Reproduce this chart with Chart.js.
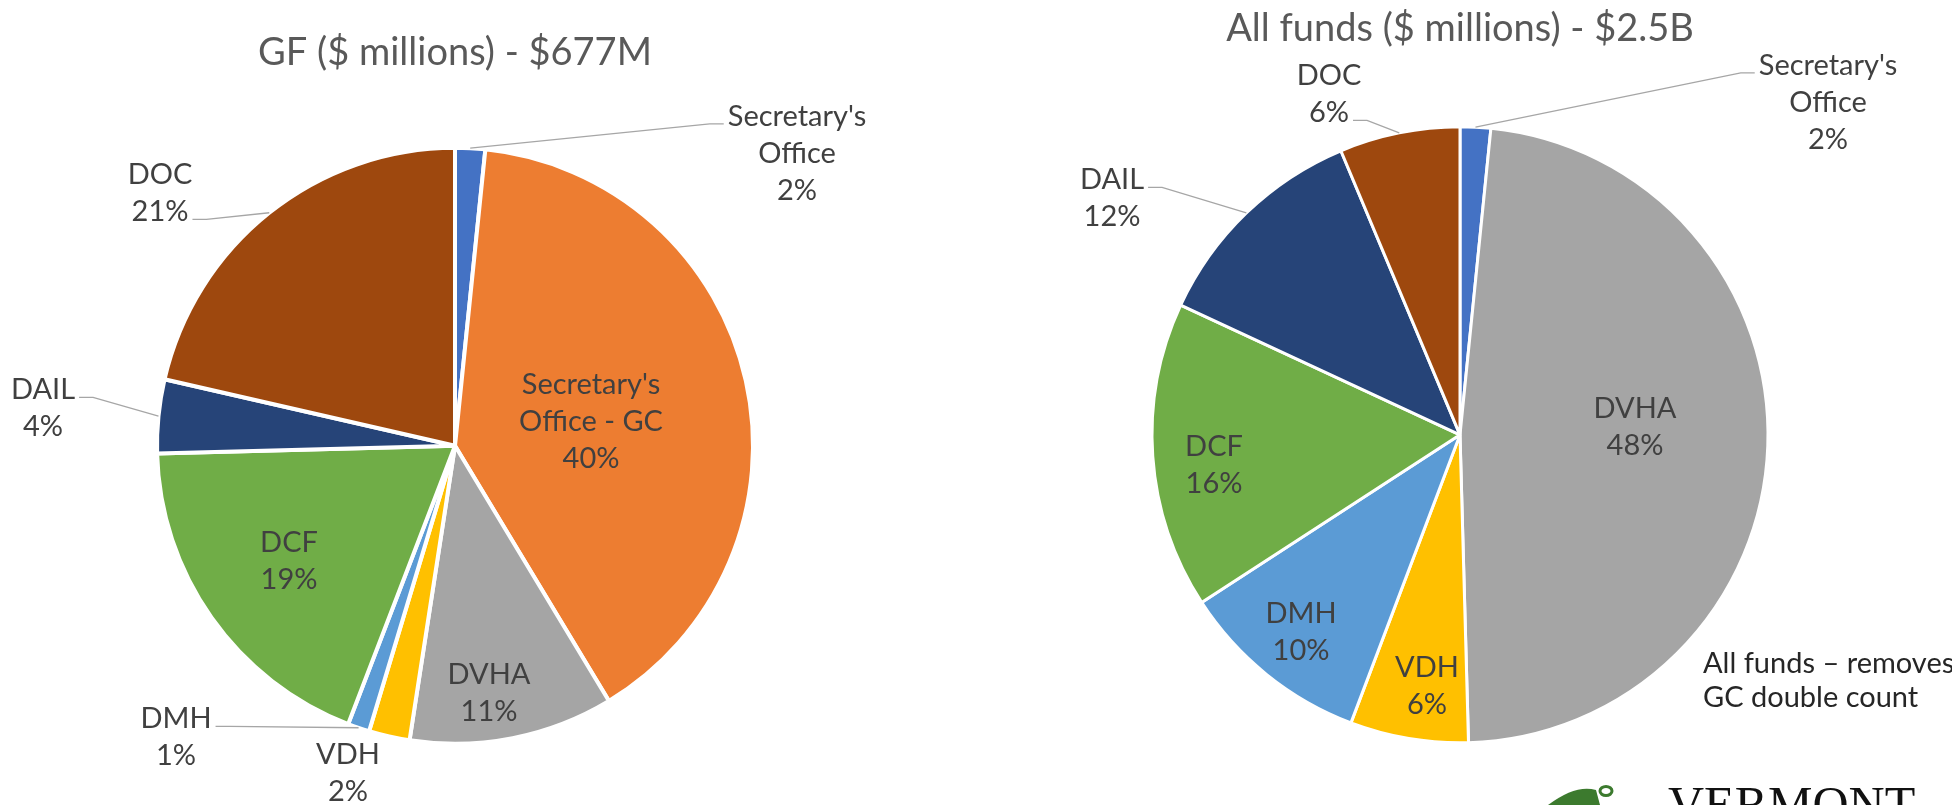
<!DOCTYPE html>
<html>
<head>
<meta charset="utf-8">
<script src="https://cdn.jsdelivr.net/npm/chart.js@4.4.1/dist/chart.umd.min.js"></script>
<style>
  html, body { margin: 0; padding: 0; background: #fff; overflow: hidden; }
  .pane { position: absolute; top: 0; width: 976px; height: 805px; }
</style>
</head>
<body>
<div class="pane" style="left:0"><canvas id="gfChart"></canvas></div>
<div class="pane" style="left:976px"><canvas id="allChart"></canvas></div>
<script>
// GF pie, $ millions, clockwise from 12 o'clock
const gfLabels = [["Secretary's", "Office"], ["Secretary's", "Office - GC"], ["DVHA"], ["VDH"], ["DMH"], ["DCF"], ["DAIL"], ["DOC"]];
const gfValues = [11, 269, 75, 15, 8, 127, 27, 145];
const gfColors = ['#4472C4', '#ED7D31', '#A5A5A5', '#FFC000', '#5B9BD5', '#70AD47', '#264478', '#9E480E'];

// All funds pie, $ millions
const allLabels = [["Secretary's", "Office"], ["DVHA"], ["VDH"], ["DMH"], ["DCF"], ["DAIL"], ["DOC"]];
const allValues = [40, 1199, 155, 252, 402, 294, 158];
const allColors = ['#4472C4', '#A5A5A5', '#FFC000', '#5B9BD5', '#70AD47', '#264478', '#9E480E'];

const noteLines = ["All funds \u2013 removes", "GC double count"];

// where the label blocks sit, px from the pie centre
const gfLabelPos = [[342, -293], [136, -25], [34, 247], [-107, 327], [-279, 291], [-166, 115], [-412, -38], [-295, -253]];
const allLabelPos = [[368, -333], [175, -8], [-33, 251], [-159, 197], [-246, 30], [-348, -237], [-131, -341]];
// leader lines: [text line they hang off, side of the text]
const gfLeaders = {0: [0, 'left'], 4: [0, 'right'], 6: [0, 'right'], 7: [1, 'right']};
const allLeaders = {0: [0, 'left'], 5: [0, 'right'], 6: [1, 'right']};

const FONT = 'Lato, "Open Sans", sans-serif';
const LINE = 37;

const labelPlugin = {
  id: 'sliceLabels',
  afterDatasetsDraw(chart, args, opts) {
    const ctx = chart.ctx;
    const meta = chart.getDatasetMeta(0);
    const values = chart.data.datasets[0].data;
    const total = values.reduce((a, b) => a + b, 0);
    ctx.save();
    ctx.font = '29px ' + FONT;
    ctx.textAlign = 'center';
    ctx.textBaseline = 'alphabetic';
    meta.data.forEach((arc, i) => {
      const p = arc.getProps(['x', 'y', 'outerRadius', 'startAngle', 'endAngle'], true);
      const lines = chart.data.labels[i].concat(Math.round(values[i] / total * 100) + '%');
      const cx = p.x + opts.pos[i][0], cy = p.y + opts.pos[i][1];
      const top = cy - (lines.length - 1) * LINE / 2;
      ctx.fillStyle = '#404040';
      lines.forEach((t, k) => ctx.fillText(t, cx, top + k * LINE + 10));
      const ld = opts.leaders[i];
      if (ld) {
        const w = ctx.measureText(lines[ld[0]]).width;
        const dir = ld[1] == 'left' ? -1 : 1;
        const sx = cx + dir * (w / 2 + 4), sy = top + ld[0] * LINE + 8;
        const mid = (p.startAngle + p.endAngle) / 2;
        ctx.strokeStyle = '#A6A6A6';
        ctx.lineWidth = 1.3;
        ctx.beginPath();
        ctx.moveTo(sx, sy);
        ctx.lineTo(sx + dir * 14, sy);
        ctx.lineTo(p.x + Math.cos(mid) * p.outerRadius, p.y + Math.sin(mid) * p.outerRadius);
        ctx.stroke();
      }
    });
    ctx.restore();
  }
};

const notePlugin = {
  id: 'note',
  afterDraw(chart) {
    const ctx = chart.ctx;
    ctx.save();
    ctx.font = '29px ' + FONT;
    ctx.fillStyle = '#262626';
    ctx.textAlign = 'left';
    noteLines.forEach((t, k) => ctx.fillText(t, 727, 673 + k * 34));
    // logo, cut by the bottom edge
    ctx.font = '50px "Liberation Serif", serif';
    ctx.fillStyle = '#111';
    ctx.fillText('VERMONT', 692, 821);
    ctx.fillStyle = '#3C7A2E';
    ctx.beginPath();
    ctx.moveTo(572, 805);
    ctx.quadraticCurveTo(600, 784, 620, 790);
    ctx.lineTo(624, 805);
    ctx.closePath();
    ctx.fill();
    ctx.strokeStyle = '#3C7A2E';
    ctx.lineWidth = 3;
    ctx.beginPath();
    ctx.ellipse(630, 791, 6, 4.5, 0, 0, Math.PI * 2);
    ctx.stroke();
    ctx.restore();
  }
};

function pie(id, labels, values, colors, border, radius, padding, title, titlePad, pos, leaders, extra) {
  return new Chart(document.getElementById(id), {
    type: 'pie',
    data: {
      labels: labels,
      datasets: [{
        data: values,
        backgroundColor: colors,
        borderColor: '#fff',
        borderWidth: border
      }]
    },
    options: {
      responsive: true,
      maintainAspectRatio: false,
      animation: false,
      radius: radius,
      layout: { padding: padding },
      events: [],
      plugins: {
        legend: { display: false },
        tooltip: { enabled: false },
        title: {
          display: true,
          text: title,
          color: '#595959',
          font: { family: FONT, size: 38, weight: 'normal' },
          padding: titlePad
        },
        sliceLabels: { pos: pos, leaders: leaders }
      }
    },
    plugins: [labelPlugin].concat(extra || [])
  });
}

pie('gfChart', gfLabels, gfValues, gfColors, 4, 298,
  { left: 158, right: 224, top: 0, bottom: 62 },
  'GF ($ millions) - $677M', { top: 30, bottom: 73 }, gfLabelPos, gfLeaders);

pie('allChart', allLabels, allValues, allColors, 3, 308,
  { left: 177, right: 185, top: 0, bottom: 63 },
  'All funds ($ millions) - $2.5B', { top: 6, bottom: 76 }, allLabelPos, allLeaders, [notePlugin]);
</script>
</body>
</html>
